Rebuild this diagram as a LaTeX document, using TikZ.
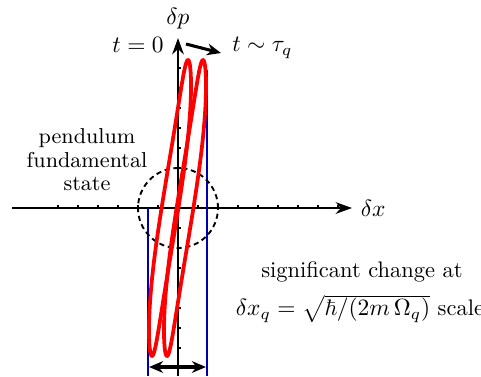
\documentclass[tikz,border=0pt]{standalone}
\usepackage{amsmath}
\usepackage{amssymb}
\usepackage{tikz}
\usetikzlibrary{arrows.meta, positioning, calc}

\begin{document}
\begin{tikzpicture}[x=0.3cm,y=0.3cm,font=\fontsize{9.6}{12}\selectfont]
  \useasboundingbox (-8.9,-8.4) rectangle (15.15,10.4);
  \def\tk{0.15}
  \def\amp{7.4}
  % axes
  \draw[-{Stealth[length=7pt,width=5pt]},line width=0.85pt] (-8.3,0) -- (8.7,0) node[right] (dx) {$\delta x$};
  \draw[-{Stealth[length=7pt,width=5pt]},line width=0.85pt] (0,-8.4) -- (0,8.5) node[above] (dp) {$\delta p$};
  \foreach \i in {-6,...,-1,1,2,...,8}
    \draw[line width=0.5pt] (\i,0) -- (\i,\tk);
  \foreach \j in {-7,...,-1,1,2,...,7}
    \draw[line width=0.5pt] (0,\j) -- (\tk,\j);
  % blue bounds
  \draw[blue!70!black,line width=0.65pt] (-1.5,0) -- (-1.5,-8.4);
  \draw[blue!70!black,line width=0.65pt] (1.45,6.9) -- (1.45,-8.4);
  % ground state circle
  \draw[dash pattern=on 2.2pt off 1.6pt,line width=0.8pt] (0,0) circle (2);
  % squeezed orbits
  \foreach \xc in {-0.4,0.35}{
    \draw[red,line width=1.6pt,line join=round]
      plot[domain=0:360,samples=140,smooth]
      ({\xc+0.42*cos(\x)+0.9*sin(\x)*(1.3-0.3*sin(\x)*sin(\x))},{\amp*sin(\x)});
  }
  % time arrow
  \node[anchor=east] (t0) at (-0.3,8.15) {$t=0$};
  \node[anchor=west] (tq) at (2.3,8.0) {$t\sim\tau_q$};
  \coordinate (ts) at (0.4,8.2);
  \coordinate (te) at (2.15,7.75);
  \draw[-{Stealth[length=6pt,width=5pt]},line width=1.3pt] (ts) -- (te);
  % scale arrow
  \coordinate (sl) at (-1.45,-7.95);
  \coordinate (sr) at (1.4,-7.95);
  \draw[{Stealth[length=6pt,width=5pt]}-{Stealth[length=6pt,width=5pt]},line width=1.3pt] (sl) -- (sr);
  % labels
  \node[align=center,font=\fontsize{9.2}{10}\selectfont] (gs) at (-4.55,2.4) {pendulum\\fundamental\\state};
  \node[inner sep=1pt] (sc) at (9.2,-3.2) {significant change at};
  \node[inner sep=1pt] (sq) at (9.1,-5.05) {$\delta x_q=\sqrt{\hbar/(2m\,\Omega_q)}$ scale};
\end{tikzpicture}
\end{document}
